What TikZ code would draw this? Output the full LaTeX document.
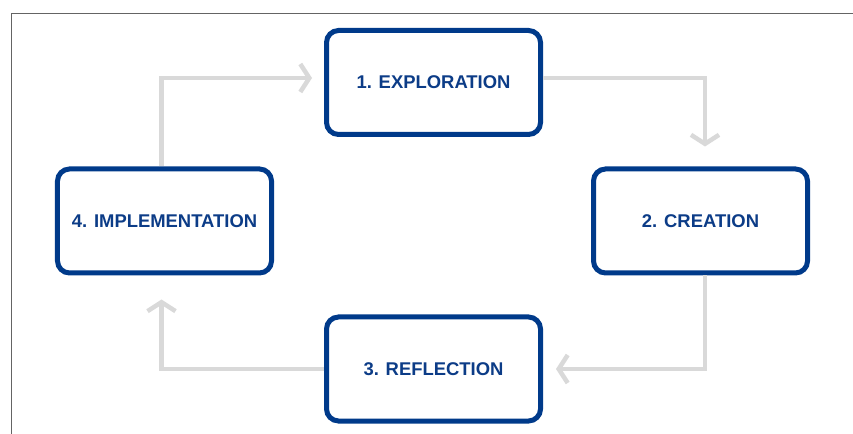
\documentclass[tikz,border=0pt]{standalone}
\usepackage{fontspec}
\newfontfamily\stagefont{Liberation Sans}
\usetikzlibrary{arrows.meta}
\definecolor{stageblue}{RGB}{0,58,138}
\definecolor{stagetext}{RGB}{12,60,135}
\definecolor{flowgray}{RGB}{217,217,217}
\definecolor{framegray}{RGB}{100,100,100}
\begin{document}
\begin{tikzpicture}[
        x=1bp, y=-1bp,
        font=\stagefont\bfseries\fontsize{18.5}{21}\selectfont
    ]
    \tikzset{
        stagebox/.style = {rectangle, rounded corners=12bp, draw=stageblue, line width=5bp, fill=white, text=stagetext, minimum width=214bp, minimum height=104bp, align=center},
        flowline/.style = {draw=flowgray, line width=4.5bp, -{Straight Barb[length=9bp,width=28bp]}}
    }
    \useasboundingbox (0,0) rectangle (853,434);
    % frame
    \draw[framegray, line width=1bp] (11,434) -- (11,14) -- (853,14);
    % stages
    \node[stagebox] (expl) at (433.5,82.5) {1. EXPLORATION};
    \node[stagebox] (crea) at (700.5,221) {2. CREATION};
    \node[stagebox] (refl) at (433.5,369) {3. REFLECTION};
    \node[stagebox] (impl) at (164.5,221) {4. IMPLEMENTATION};
    % cycle
    \draw[flowline, shorten >=12bp] ([xshift=-3bp]impl.north) |- ([yshift=4.5bp]expl.west);
    \draw[flowline, shorten >=20bp] ([yshift=4.5bp]expl.east) -| ([xshift=4.5bp]crea.north);
    \draw[flowline, shorten >=13bp] ([xshift=4.5bp]crea.south) |- (refl.east);
    \draw[flowline, shorten >=24bp] (refl.west) -| ([xshift=-3bp]impl.south);
\end{tikzpicture}
\end{document}
